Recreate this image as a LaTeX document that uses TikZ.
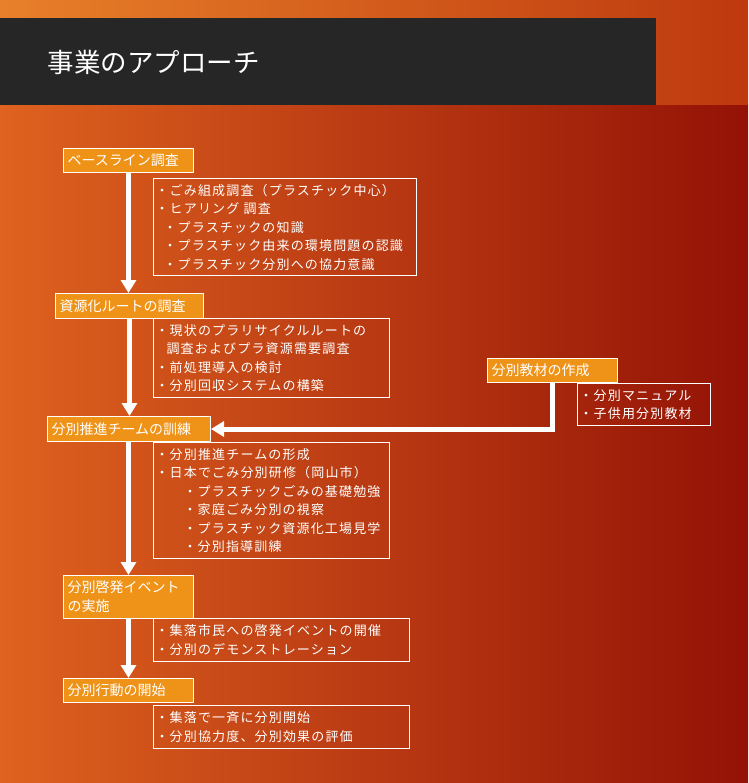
\documentclass[tikz,border=0pt]{standalone}
\usepackage{fontspec}
\newfontfamily\cjk{Noto Sans CJK JP}
\newfontfamily\cjkwide[LetterSpace=9]{Noto Sans CJK JP}
\usetikzlibrary{arrows.meta}
\definecolor{topleft}{HTML}{E8802A}
\definecolor{topright}{HTML}{BE390E}
\definecolor{bgleft}{HTML}{DF621F}
\definecolor{bgmid}{HTML}{C4400F}
\definecolor{bgright}{HTML}{931206}
\definecolor{titlebar}{HTML}{262626}
\definecolor{stagefill}{HTML}{EF9318}
\begin{document}
\begin{tikzpicture}
[x=1pt, y=-1pt,
stage box/.style={draw=white, line width=1pt, fill=stagefill, text=white, anchor=north west,
  align=left, inner xsep=4pt, inner ysep=0pt, font=\cjk\fontsize{14}{19}\selectfont},
detail box/.style={draw=white, line width=1pt, text=white, anchor=north west,
  align=left, inner xsep=2pt, inner ysep=0pt, font=\cjkwide\fontsize{13}{18.5}\selectfont},
flow/.style={draw=white, line width=5pt, -{Triangle[width=15pt,length=13pt]}}]
\useasboundingbox (0,0) rectangle (748,783);
\shade[left color=bgleft, middle color=bgmid, right color=bgright] (0,105) rectangle (748,783);
\shade[left color=topleft, right color=topright] (0,0) rectangle (748,105);
\fill[titlebar] (0,18) rectangle (656,105);
\node[anchor=west, text=white, font=\cjk\fontsize{26.5}{30}\selectfont] (title) at (44,62) {事業のアプローチ};

\node[stage box, text width=122pt, minimum height=24pt] (base) at (63,148) {ベースライン調査};
\node[stage box, text width=140pt, minimum height=25pt] (route) at (55,293) {資源化ルートの調査};
\node[stage box, text width=155pt, minimum height=25pt] (team) at (47,416) {分別推進チームの訓練};
\node[stage box, text width=122pt, minimum height=24pt] (mat) at (487,358) {分別教材の作成};
\node[stage box, text width=122pt, minimum height=43pt] (event) at (63,575) {分別啓発イベント\\の実施};
\node[stage box, text width=122pt, minimum height=24pt] (start) at (63,678) {分別行動の開始};

\node[detail box, text width=259pt, minimum height=97pt] (d1) at (153,178)
  {・ごみ組成調査（プラスチック中心）\\・ヒアリング 調査\\\hspace*{8pt}・プラスチックの知識\\
   \hspace*{8pt}・プラスチック由来の環境問題の認識\\\hspace*{8pt}・プラスチック分別への協力意識};
\node[detail box, text width=232pt, minimum height=79pt] (d2) at (153,318)
  {・現状のプラリサイクルルートの\\\hspace*{11pt}調査およびプラ資源需要調査\\・前処理導入の検討\\・分別回収システムの構築};
\node[detail box, text width=232pt, minimum height=116pt] (d3) at (153,442)
  {・分別推進チームの形成\\・日本でごみ分別研修（岡山市）\\\hspace*{28pt}・プラスチックごみの基礎勉強\\
   \hspace*{28pt}・家庭ごみ分別の視察\\\hspace*{28pt}・プラスチック資源化工場見学\\\hspace*{28pt}・分別指導訓練};
\node[detail box, text width=129pt, minimum height=42pt] (d4) at (577,383)
  {・分別マニュアル\\・子供用分別教材};
\node[detail box, text width=252pt, minimum height=43pt] (d5) at (153,618)
  {・集落市民への啓発イベントの開催\\・分別のデモンストレーション};
\node[detail box, text width=252pt, minimum height=43pt] (d6) at (153,705)
  {・集落で一斉に分別開始\\・分別協力度、分別効果の評価};

\draw[flow] (base.south) -- (base.south |- route.north);
\draw[flow] (route.south) -- (route.south |- team.north);
\draw[flow] (team.south -| base.south) -- (event.north);
\draw[flow] (event.south) -- (start.north);
\draw[flow] (mat.south) |- (team.east);
\end{tikzpicture}
\end{document}
